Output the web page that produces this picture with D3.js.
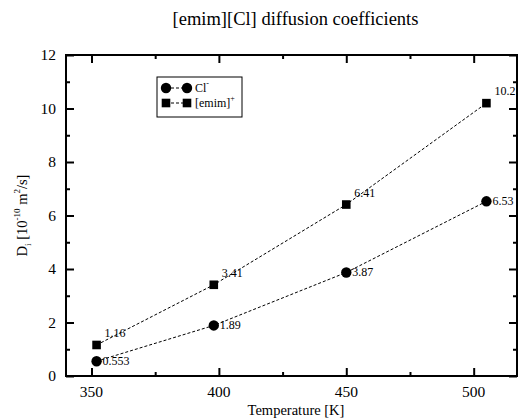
<!DOCTYPE html>
<html>
<head>
<meta charset="utf-8">
<script src="https://cdn.jsdelivr.net/npm/d3@7"></script>
<style>
  html, body { margin: 0; padding: 0; background: #fff; }
  svg { display: block; font-family: "Liberation Serif", "Times New Roman", serif; }
</style>
</head>
<body>
<svg id="chart" width="518" height="419"></svg>
<script>
// Diffusion coefficients of the ions in [emim][Cl] vs temperature
const temperatures = [352, 398, 450, 505];
const chlorideD = [0.553, 1.89, 3.87, 6.53];
const emimD = [1.16, 3.41, 6.41, 10.2];
const xMajorTicks = [350, 400, 450, 500];
const xMinorTicks = [375, 425, 475];
const yMajorTicks = [0, 2, 4, 6, 8, 10, 12];
const yMinorTicks = [1, 3, 5, 7, 9, 11];

const svg = d3.select("#chart");
const margin = { left: 66, right: 517, top: 55, bottom: 376 };

const x = d3.scaleLinear().domain([340, 517]).range([margin.left, margin.right]);
const y = d3.scaleLinear().domain([0, 12]).range([margin.bottom, margin.top]);

// Title
svg.append("text")
  .attr("x", (margin.left + margin.right) / 2 + 4)
  .attr("y", 25)
  .attr("text-anchor", "middle")
  .attr("font-size", 18.5)
  .text("[emim][Cl] diffusion coefficients");

// Frame-style axes with inward ticks on all four sides
const frame = svg.append("g");
const majorLen = 8, minorLen = 4;

function tickAxis(axisGen, transform, ticks, len) {
  const g = frame.append("g")
    .attr("transform", transform)
    .call(axisGen.tickValues(ticks).tickSize(len).tickFormat(""));
  g.select(".domain").remove();
  g.selectAll(".tick line").attr("stroke", "#000").attr("stroke-width", 2);
  return g;
}
// bottom / top (ticks point inward)
tickAxis(d3.axisTop(x), `translate(0,${margin.bottom})`, xMajorTicks, majorLen);
tickAxis(d3.axisTop(x), `translate(0,${margin.bottom})`, xMinorTicks, minorLen);
tickAxis(d3.axisBottom(x), `translate(0,${margin.top})`, xMajorTicks, majorLen);
tickAxis(d3.axisBottom(x), `translate(0,${margin.top})`, xMinorTicks, minorLen);
// left / right
tickAxis(d3.axisRight(y), `translate(${margin.left},0)`, yMajorTicks, majorLen);
tickAxis(d3.axisRight(y), `translate(${margin.left},0)`, yMinorTicks, minorLen);
tickAxis(d3.axisLeft(y), `translate(${margin.right},0)`, yMajorTicks, majorLen);
tickAxis(d3.axisLeft(y), `translate(${margin.right},0)`, yMinorTicks, minorLen);

frame.append("rect")
  .attr("x", margin.left).attr("y", margin.top)
  .attr("width", margin.right - margin.left)
  .attr("height", margin.bottom - margin.top)
  .attr("fill", "none").attr("stroke", "#000").attr("stroke-width", 2);

// Tick labels
svg.append("g").selectAll("text").data(xMajorTicks).join("text")
  .attr("x", d => x(d)).attr("y", 397)
  .attr("text-anchor", "middle").attr("font-size", 15.5)
  .text(d => d);
svg.append("g").selectAll("text").data(yMajorTicks).join("text")
  .attr("x", 56).attr("y", d => y(d) + 5)
  .attr("text-anchor", "end").attr("font-size", 15.5)
  .text(d => d);

// Axis titles
svg.append("text")
  .attr("x", 296).attr("y", 415)
  .attr("text-anchor", "middle").attr("font-size", 14.5)
  .text("Temperature [K]");

const yTitle = svg.append("text")
  .attr("transform", `translate(27,${(margin.top + margin.bottom) / 2}) rotate(-90)`)
  .attr("text-anchor", "middle").attr("font-size", 14.5);
yTitle.append("tspan").text("D");
yTitle.append("tspan").attr("font-size", 9).attr("dy", 4).text("i");
yTitle.append("tspan").attr("dy", -4).text(" [10");
yTitle.append("tspan").attr("font-size", 9).attr("dy", -7).text("-10");
yTitle.append("tspan").attr("dy", 7).text(" m");
yTitle.append("tspan").attr("font-size", 9).attr("dy", -7).text("2");
yTitle.append("tspan").attr("dy", 7).text("/s]");

// Series
const series = [
  { name: "Cl", sup: "-", values: chlorideD, shape: "circle", dx: 6, dy: 4 },
  { name: "[emim]", sup: "+", values: emimD, shape: "square", dx: 8, dy: -8 }
];

const line = d3.line().x(d => x(d.t)).y(d => y(d.v));

function drawMarker(g, shape, cx, cy) {
  if (shape === "circle") {
    g.append("circle").attr("cx", cx).attr("cy", cy).attr("r", 5.2).attr("fill", "#000");
  } else {
    g.append("rect").attr("x", cx - 4.3).attr("y", cy - 4.3)
      .attr("width", 8.6).attr("height", 8.6).attr("fill", "#000");
  }
}

series.forEach(s => {
  const pts = temperatures.map((t, i) => ({ t, v: s.values[i] }));
  const g = svg.append("g");
  g.append("path").datum(pts)
    .attr("d", line)
    .attr("fill", "none").attr("stroke", "#000")
    .attr("stroke-width", 1).attr("stroke-dasharray", "3,2");
  pts.forEach(p => drawMarker(g, s.shape, x(p.t), y(p.v)));
  g.selectAll("text.val").data(pts).join("text")
    .attr("class", "val")
    .attr("x", d => x(d.t) + s.dx)
    .attr("y", d => y(d.v) + s.dy)
    .attr("font-size", 12)
    .text(d => d.v);
});

// Legend
const legend = svg.append("g");
legend.append("rect")
  .attr("x", 157).attr("y", 77).attr("width", 85).attr("height", 40)
  .attr("fill", "#fff").attr("stroke", "#000").attr("stroke-width", 1);
series.forEach((s, i) => {
  const ly = 88 + i * 15;
  legend.append("line")
    .attr("x1", 166).attr("x2", 187).attr("y1", ly).attr("y2", ly)
    .attr("stroke", "#000").attr("stroke-width", 1).attr("stroke-dasharray", "3,2");
  drawMarker(legend, s.shape, 166, ly);
  drawMarker(legend, s.shape, 187, ly);
  const t = legend.append("text").attr("x", 195).attr("y", ly + 4).attr("font-size", 12);
  t.append("tspan").text(s.name);
  t.append("tspan").attr("font-size", 8).attr("dy", -6).text(s.sup);
});
</script>
</body>
</html>
